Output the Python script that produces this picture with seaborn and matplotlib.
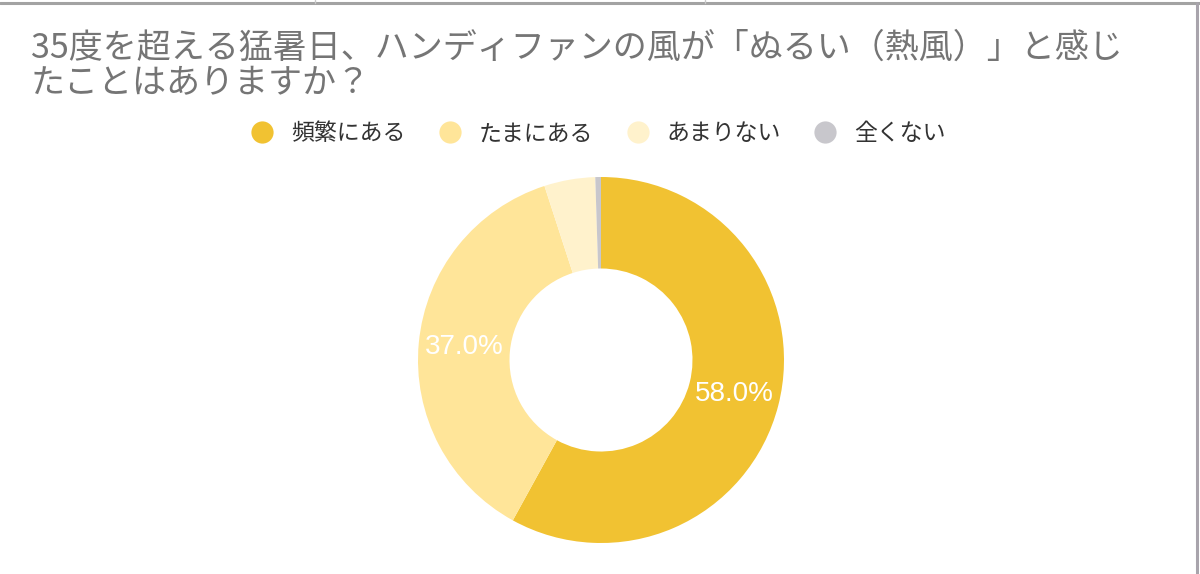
import matplotlib
matplotlib.use("Agg")
import matplotlib.pyplot as plt
from matplotlib.lines import Line2D
import seaborn as sns

# ---------------------------------------------------------
# Données
# ---------------------------------------------------------
titre = "35度を超える猛暑日、ハンディファンの風が「ぬるい（熱風）」と感じ\nたことはありますか？"
categories = ["頻繁にある", "たまにある", "あまりない", "全くない"]
valeurs = [58.0, 37.0, 4.5, 0.5]
couleurs = ["#F1C232", "#FFE599", "#FFF2CC", "#C8C7CC"]

sns.set_theme(style="white")
plt.rcParams["font.family"] = ["Noto Sans CJK JP", "DejaVu Sans"]

palette = sns.color_palette(couleurs)

fig = plt.figure(figsize=(12, 5.74), dpi=100)

# cadre gris de la capture (haut et droite)
fig.add_artist(Line2D([0, 1], [1 - 3 / 574, 1 - 3 / 574], color="#A3A3A3", lw=2.2))
fig.add_artist(Line2D([1197 / 1200, 1197 / 1200], [0, 1 - 3 / 574], color="#A8A4AC", lw=2.2))
for xt in [315, 705]:
    fig.add_artist(Line2D([xt / 1200, xt / 1200], [1 - 3 / 574, 1], color="#C8C8C8", lw=1))

# ---------------------------------------------------------
# Donut
# ---------------------------------------------------------
ax = fig.add_axes([(601 - 183) / 1200, (574 - 543) / 574, 366 / 1200, 366 / 574])

wedges, textes, pcts = ax.pie(
    valeurs,
    colors=palette,
    startangle=90,
    counterclock=False,
    radius=1.0,
    wedgeprops=dict(width=0.5, linewidth=0),
    autopct=lambda p: f"{p:.1f}%" if p > 10 else "",
    pctdistance=0.75,
    textprops=dict(color="white", fontsize=20, family=["Liberation Sans", "DejaVu Sans"]),
)
ax.set_xlim(-1, 1)
ax.set_ylim(-1, 1)
ax.set_aspect("equal")
ax.axis("off")

# ---------------------------------------------------------
# Titre et légende
# ---------------------------------------------------------
fig.text(31 / 1200, 1 - 31 / 574, titre, ha="left", va="top",
         fontsize=24.5, color="#757575", linespacing=1.02)

poignees = [Line2D([], [], marker="o", linestyle="none", markersize=16,
                   markerfacecolor=c, markeredgewidth=0) for c in palette]
fig.legend(poignees, categories, loc="center", bbox_to_anchor=(598 / 1200, 1 - 134 / 574),
           ncol=4, frameon=False, fontsize=16.5, labelcolor="#333333",
           handlelength=1.0, handletextpad=0.75, columnspacing=1.45)

fig.savefig("out.png", dpi=100, facecolor="white")
